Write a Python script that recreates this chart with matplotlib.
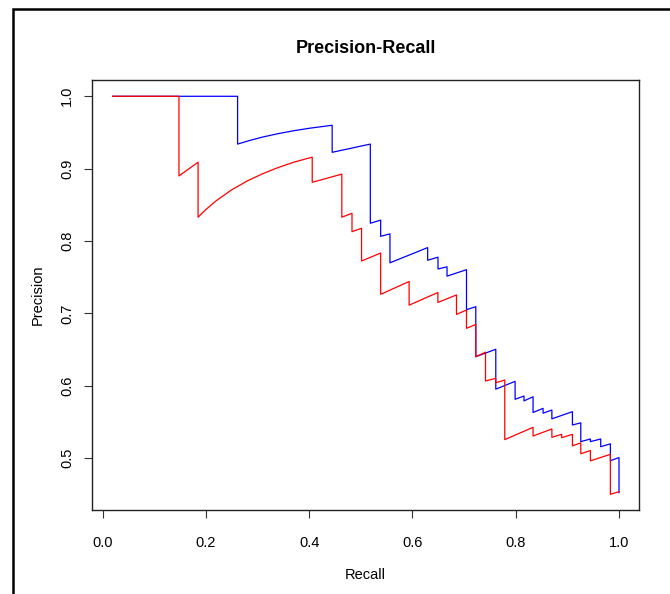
import matplotlib
matplotlib.use("Agg")
import matplotlib.pyplot as plt
from matplotlib.patches import Rectangle

# Precision-recall curves (two models)
blue_recall = [0.0195, 0.2615, 0.2615, 0.285, 0.31, 0.34, 0.37, 0.40, 0.4446,
               0.4446, 0.5185, 0.5185, 0.5385, 0.5385, 0.5565, 0.5565, 0.6295,
               0.6295, 0.6495, 0.6495, 0.667, 0.667, 0.7047, 0.7047, 0.7227,
               0.7227, 0.7614, 0.7614, 0.7988, 0.7988, 0.816, 0.816, 0.8336,
               0.8336, 0.853, 0.853, 0.870, 0.870, 0.9098, 0.9098, 0.926,
               0.926, 0.9446, 0.9446, 0.9646, 0.9646, 0.9833, 0.9833, 1.0, 1.0]
blue_precision = [1.0, 1.0, 0.934, 0.939, 0.9437, 0.9484, 0.9524, 0.9558, 0.960,
                  0.9226, 0.934, 0.8246, 0.829, 0.8066, 0.810, 0.770, 0.791,
                  0.7735, 0.7778, 0.7615, 0.7645, 0.7516, 0.7605, 0.7053, 0.7094,
                  0.6403, 0.6506, 0.5955, 0.6063, 0.5815, 0.586, 0.5793, 0.585,
                  0.5633, 0.569, 0.5623, 0.5667, 0.5545, 0.5644, 0.546, 0.549,
                  0.523, 0.5267, 0.523, 0.5267, 0.516, 0.520, 0.4967, 0.501, 0.4525]

red_recall = [0.0195, 0.148, 0.148, 0.185, 0.185, 0.20, 0.22, 0.25, 0.28, 0.31,
              0.34, 0.37, 0.406, 0.406, 0.4633, 0.4633, 0.483, 0.483, 0.5015,
              0.5015, 0.5385, 0.5385, 0.5936, 0.5936, 0.6493, 0.6493, 0.6853,
              0.6853, 0.7047, 0.7047, 0.7227, 0.7227, 0.7415, 0.7415, 0.7614,
              0.7614, 0.7788, 0.7788, 0.8336, 0.8336, 0.870, 0.870, 0.889,
              0.889, 0.9098, 0.9098, 0.926, 0.926, 0.9446, 0.9446, 0.9833,
              0.9833, 1.0]
red_precision = [1.0, 1.0, 0.890, 0.909, 0.833, 0.8435, 0.8557, 0.8708, 0.883,
                 0.8931, 0.9016, 0.9089, 0.916, 0.8812, 0.8925, 0.833, 0.8384,
                 0.813, 0.8177, 0.7725, 0.7835, 0.7265, 0.7442, 0.7115, 0.729,
                 0.7153, 0.7256, 0.6987, 0.7048, 0.6795, 0.6849, 0.6403, 0.6466,
                 0.6068, 0.6105, 0.6044, 0.6081, 0.5258, 0.5428, 0.5308, 0.5405,
                 0.529, 0.5331, 0.5285, 0.5331, 0.5172, 0.5213, 0.5062, 0.5108,
                 0.4965, 0.5055, 0.4503, 0.4539]

x_ticks = [0.0, 0.2, 0.4, 0.6, 0.8, 1.0]
y_ticks = [0.5, 0.6, 0.7, 0.8, 0.9, 1.0]

plt.rcParams["font.family"] = ["Liberation Sans", "DejaVu Sans"]

W, H = 670, 594
fig = plt.figure(figsize=(W / 100, H / 100), dpi=100)
ax = fig.add_axes([92 / W, 1 - 510 / H, (639 - 92) / W, (510 - 80) / H])

# outer device border (only left + top edges visible in the reference)
fig.patches.append(Rectangle((13 / W, -0.2), 1.5, 1.2 - 9 / H,
                             transform=fig.transFigure, fill=False,
                             edgecolor="black", linewidth=1.8))

ax.plot(blue_recall, blue_precision, color="#0000ff", linewidth=0.9)
ax.plot(red_recall, red_precision, color="#ff0000", linewidth=0.9)

ax.set_xlim(-0.0204, 1.0387)
ax.set_ylim(0.4286, 1.0225)
ax.set_xticks(x_ticks)
ax.set_xticklabels([f"{v:.1f}" for v in x_ticks])
ax.set_yticks(y_ticks)
ax.set_yticklabels([f"{v:.1f}" for v in y_ticks], rotation=90, va="center")
ax.tick_params(length=6, width=0.8, labelsize=10.5, pad=13, color="#333333")
ax.tick_params(axis="y", pad=7)
for s in ax.spines.values():
    s.set_linewidth(1.0)
    s.set_color("#222222")

# R draws the main title with wide tracking; mimic with a touch of spacing
ax.set_title("Precision-Recall", fontsize=13, fontweight="bold", pad=19.5,
             fontstretch="expanded")
ax.set_xlabel("Recall", fontsize=10.5, labelpad=13)
ax.set_ylabel("Precision", fontsize=10.5, labelpad=11)

fig.savefig("out.png", dpi=100)
